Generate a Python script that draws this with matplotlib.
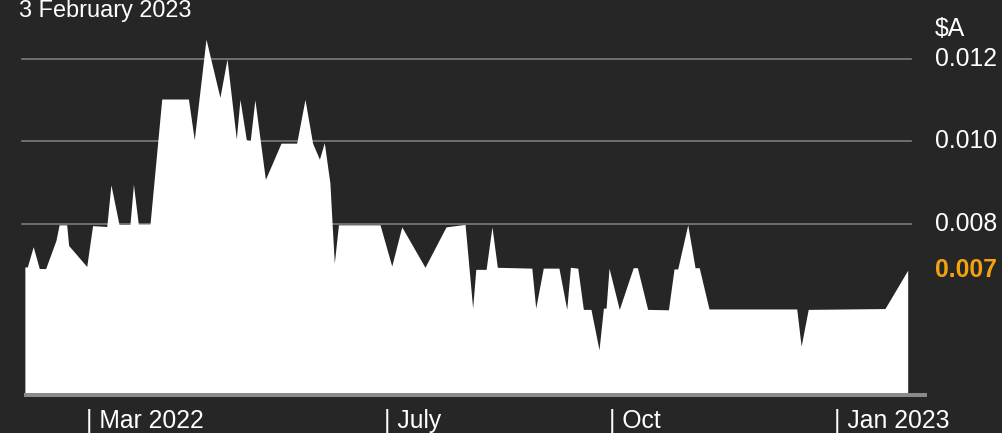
import matplotlib
matplotlib.use('Agg')
import matplotlib.pyplot as plt
import matplotlib.transforms as mtransforms
from matplotlib.patches import Rectangle
import pandas as pd

# ---------------- data ----------------
start_date = '2022-02-03'
day_offsets = [1.0, 2.0, 4.4, 6.9, 9.5, 13.7, 15.0, 18.1, 18.9, 26.3,
               28.7, 34.5, 36.2, 39.5, 44.0, 45.4, 47.4, 52.2, 57.0, 67.9,
               70.3, 75.1, 80.8, 83.7, 87.5, 89.0, 91.6, 93.2, 95.1, 99.4,
               105.8, 112.2, 115.6, 118.7, 121.5, 123.5, 125.8, 126.7, 127.6, 129.3,
               146.3, 151.1, 155.2, 164.7, 173.3, 181.1, 184.2, 185.5, 189.7, 192.1,
               194.3, 208.4, 210.0, 213.1, 219.5, 222.7, 224.2, 227.2, 229.5, 232.6,
               235.9, 237.7, 238.8, 240.0, 244.2, 249.9, 251.6, 255.8, 264.3, 266.6,
               268.1, 272.2, 275.2, 276.9, 280.9, 316.8, 318.6, 321.5, 352.9, 362.2]
prices = [0.00696, 0.00696, 0.00745, 0.00692, 0.00692, 0.00760, 0.00798, 0.00798, 0.00748, 0.00697,
          0.00796, 0.00794, 0.00895, 0.00799, 0.00799, 0.00896, 0.00800, 0.00800, 0.01103, 0.01103,
          0.01004, 0.01248, 0.01107, 0.01200, 0.01006, 0.01102, 0.01004, 0.01002, 0.01101, 0.00908,
          0.00996, 0.00996, 0.01102, 0.00996, 0.00957, 0.00997, 0.00899, 0.00800, 0.00705, 0.00798,
          0.00798, 0.00698, 0.00793, 0.00695, 0.00793, 0.00799, 0.00596, 0.00690, 0.00690, 0.00793,
          0.00695, 0.00693, 0.00596, 0.00693, 0.00693, 0.00593, 0.00695, 0.00693, 0.00593, 0.00593,
          0.00495, 0.00596, 0.00596, 0.00693, 0.00593, 0.00694, 0.00694, 0.00593, 0.00592, 0.00691,
          0.00691, 0.00798, 0.00694, 0.00694, 0.00594, 0.00594, 0.00504, 0.00593, 0.00595, 0.00688]
grid_values = [0.012, 0.010, 0.008]
grid_labels = ['0.012', '0.010', '0.008']
last_label = '0.007'
unit_label = '$A'
title_text = '3 February 2023'
tick_dates = ['2022-03-01', '2022-07-01', '2022-10-01', '2023-01-01']
tick_labels = ['| Mar 2022', '| July', '| Oct', '| Jan 2023']

# ---------------- style ----------------
BG = '#262626'
GRID = '#7c7c7c'
BAR = '#8a8a8a'
ORANGE = '#F2A30F'
FONT = 'Liberation Sans'
FS = 17.8
plt.rcParams['font.family'] = [FONT, 'DejaVu Sans']

W, H = 1002, 433
start = pd.Timestamp(start_date)
dates = start + pd.to_timedelta(day_offsets, unit='D')

fig = plt.figure(figsize=(W / 100, H / 100), dpi=100, facecolor=BG)
ax_l, ax_r, ax_top, ax_bot = 20, 927, 30, 397
ax = fig.add_axes([ax_l / W, (H - ax_bot) / H, (ax_r - ax_l) / W, (ax_bot - ax_top) / H])
ax.set_facecolor(BG)

ymin, ymax = 0.003806, 0.012703
baseline = 0.003903
ax.set_ylim(ymin, ymax)
ax.set_xlim(start + pd.Timedelta(days=-1.0), start + pd.Timedelta(days=370.1))

ax.fill_between(dates, prices, baseline, color='white', lw=0, zorder=3)

for g in grid_values:
    ax.axhline(g, xmin=2 / 907, xmax=891 / 907, color=GRID, lw=1.2, zorder=2)

ax.add_patch(Rectangle((4 / 907, 0), 903 / 907, 4.5 / 367, transform=ax.transAxes,
                       color=BAR, lw=0, zorder=4, clip_on=False))

for s in ax.spines.values():
    s.set_visible(False)
ax.set_yticks([])
ax.set_xticks(pd.to_datetime(tick_dates))
ax.set_xticklabels(tick_labels, ha='left')
ax.tick_params(axis='x', length=0, pad=8.5, labelcolor='white', labelsize=FS)

trans = mtransforms.blended_transform_factory(fig.transFigure, ax.transData)
lx = 935 / W
for g, lab in zip(grid_values, grid_labels):
    fig.text(lx, g, lab, transform=trans, color='white', fontsize=FS, va='center', ha='left')
fig.text(lx, grid_values[0], unit_label,
         transform=mtransforms.offset_copy(trans, fig=fig, y=30, units='dots'),
         color='white', fontsize=FS, va='center', ha='left')
fig.text(lx, prices[-1], last_label, transform=trans, color=ORANGE, fontsize=FS,
         fontweight='bold', va='center', ha='left')

fig.text(19 / W, 1 - 17 / H, title_text, color='white', fontsize=16.9, va='baseline', ha='left')

fig.savefig('out.png', dpi=100, facecolor=BG)
